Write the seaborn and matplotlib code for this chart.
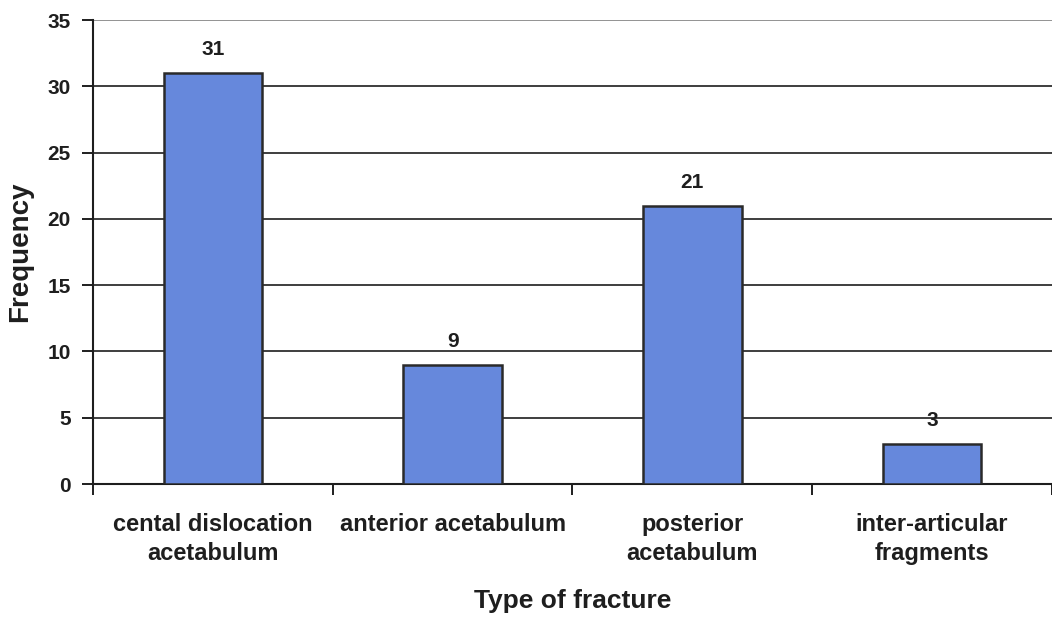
import matplotlib
matplotlib.use("Agg")
import matplotlib.pyplot as plt
import seaborn as sns
import pandas as pd
from matplotlib.ticker import FixedLocator

categories = ["cental dislocation\nacetabulum", "anterior acetabulum",
              "posterior\nacetabulum", "inter-articular\nfragments"]
frequency = [31, 9, 21, 3]
y_ticks = [0, 5, 10, 15, 20, 25, 30, 35]

df = pd.DataFrame({"Type of fracture": categories, "Frequency": frequency})

sns.set_theme(style="white")
plt.rcParams["font.family"] = ["Liberation Sans", "DejaVu Sans"]
plt.rcParams["font.weight"] = "bold"

INK = "#1e1e1e"

fig = plt.figure(figsize=(10.52, 6.18), dpi=100)
ax = fig.add_axes([0.0884, 0.2168, 0.9116, 0.7508])

sns.barplot(data=df, x="Type of fracture", y="Frequency", order=categories,
            color="#6688dc", edgecolor="#2a2a2a", linewidth=1.8,
            width=0.41, saturation=1, ax=ax, zorder=3)

ax.set_xlim(-0.5, len(categories) - 0.5)
ax.set_ylim(0, 35)
ax.set_yticks(y_ticks)
ax.set_yticklabels([str(t) for t in y_ticks], fontsize=15, fontweight="bold",
                   color=INK)

# horizontal gridlines
for t in y_ticks[1:-1]:
    ax.axhline(t, color=INK, lw=1.2, zorder=1)
ax.axhline(35, color="#8a8a8a", lw=1.3, zorder=1)

for side in ["top", "right"]:
    ax.spines[side].set_visible(False)
for side in ["left", "bottom"]:
    ax.spines[side].set_color(INK)
    ax.spines[side].set_linewidth(1.5)

ax.tick_params(axis="y", which="major", direction="out", length=8, width=1.4,
               color=INK, left=True, pad=8)
ax.tick_params(axis="x", which="major", length=0, pad=21)
ax.xaxis.set_minor_locator(FixedLocator([i - 0.5 for i in range(len(categories) + 1)]))
ax.tick_params(axis="x", which="minor", direction="out", length=8, width=1.4,
               color=INK, bottom=True)

for lbl in ax.get_xticklabels():
    lbl.set_fontsize(17)
    lbl.set_fontweight("bold")
    lbl.set_color(INK)
    lbl.set_linespacing(1.3)
    lbl.set_verticalalignment("top")

# value labels above bars
for i, v in enumerate(frequency):
    ax.annotate(str(v), xy=(i, v), xytext=(0, 17), textcoords="offset points",
                ha="center", va="center", fontsize=15, fontweight="bold",
                color=INK)

ax.set_xlabel("Type of fracture", fontsize=19, fontweight="bold", color=INK,
              va="center")
ax.xaxis.set_label_coords(0.5, -0.252)
ax.set_ylabel("Frequency", fontsize=20, fontweight="bold", color=INK,
              va="center")
ax.yaxis.set_label_coords(-0.076, 0.5)

fig.savefig("out.png", dpi=100, facecolor="white")
